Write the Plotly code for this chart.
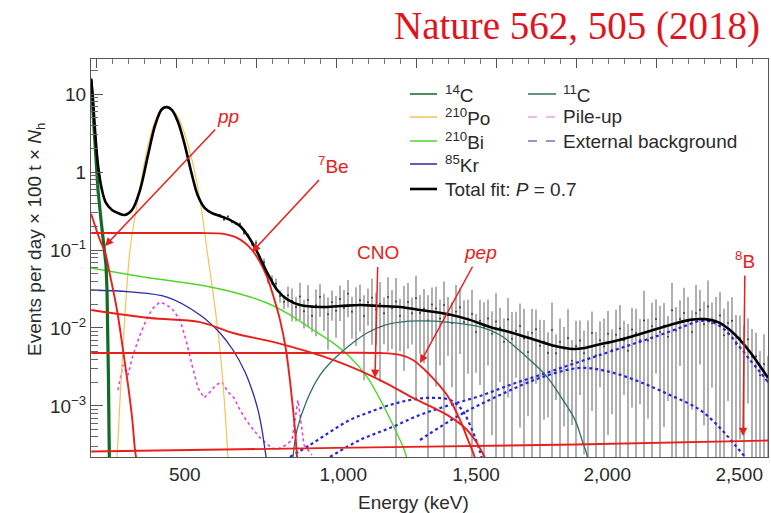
import numpy as np
import plotly.graph_objects as go

# ---------------------------------------------------------------------------
# Borexino Phase-II spectral fit, x axis in N_h (number of hits),
# energy labels placed at the matching N_h positions.
# ---------------------------------------------------------------------------
energy_tick_nh = [211, 409, 575, 739, 904]
energy_tick_text = ["500", "1,000", "1,500", "2,000", "2,500"]

# total fit
fit_nh = [94, 96.25, 98.75, 102.5, 107.5, 112.5, 120, 127.5, 136, 145,
          155, 165, 174, 182.5, 189, 195, 202.5, 211, 220, 227.5,
          236, 245, 255, 267.5, 280, 290, 299, 307.5, 317.5, 327.5,
          340, 355, 380, 405, 430, 455, 480, 505, 539, 567.5,
          592.5, 621, 649, 674, 696, 711, 726, 749, 767.5, 792.5,
          817.5, 842.5, 861, 877.5, 892.5, 905, 917.5, 930, 940]
fit_val = [15.8, 8.4, 3.45, 1.23, 0.587, 0.401, 0.326, 0.298, 0.281, 0.326,
           0.587, 1.65, 4.01, 6.43, 6.81, 6.24, 4.38, 2.22, 0.916, 0.492,
           0.345, 0.298, 0.273, 0.243, 0.203, 0.151, 0.106, 0.0701, 0.0438, 0.0298,
           0.0229, 0.0197, 0.0186, 0.0191, 0.0197, 0.0191, 0.0186, 0.0170, 0.0151, 0.0127,
           0.0103, 0.00863, 0.00702, 0.00587, 0.00538, 0.00555, 0.00605, 0.00681, 0.00767, 0.00916,
           0.0109, 0.0127, 0.0130, 0.0119, 0.00942, 0.00702, 0.00492, 0.00326, 0.00229]

# measured spectrum (bins of 5 N_h) with fractional uncertainties
data_nh = np.arange(255, 945, 5)
data_val = [0.282, 0.246, 0.270, 0.230, 0.219, 0.216, 0.165, 0.155, 0.121, 0.124,
            0.0773, 0.0695, 0.0409, 0.0415, 0.0372, 0.0257, 0.0217, 0.0262, 0.0221, 0.0186,
            0.0254, 0.0164, 0.0229, 0.0143, 0.0196, 0.0251, 0.0183, 0.0150, 0.0213, 0.0166,
            0.0236, 0.0180, 0.0274, 0.0162, 0.0196, 0.0226, 0.0142, 0.0214, 0.0244, 0.0172,
            0.0205, 0.0155, 0.0249, 0.0179, 0.0219, 0.0144, 0.0187, 0.0216, 0.0154, 0.0240,
            0.0156, 0.0176, 0.0125, 0.0200, 0.0178, 0.0132, 0.0197, 0.0147, 0.0116, 0.0162,
            0.0185, 0.0119, 0.0129, 0.0151, 0.00887, 0.0124, 0.0102, 0.0132, 0.00841, 0.0121,
            0.0101, 0.00664, 0.0128, 0.00728, 0.00920, 0.0106, 0.00735, 0.00493, 0.00863, 0.00962,
            0.00593, 0.00665, 0.00476, 0.00944, 0.00475, 0.00661, 0.00543, 0.00741, 0.00379, 0.00588,
            0.00692, 0.00475, 0.00568, 0.00859, 0.00445, 0.00695, 0.00577, 0.00845, 0.00522, 0.00818,
            0.00984, 0.00690, 0.00512, 0.00957, 0.00859, 0.00703, 0.0125, 0.00689, 0.0105, 0.0130,
            0.00887, 0.0107, 0.00771, 0.0169, 0.00931, 0.0130, 0.0156, 0.0122, 0.00891, 0.0155,
            0.0170, 0.0112, 0.0189, 0.0115, 0.0122, 0.0145, 0.00804, 0.0116, 0.0124, 0.00625,
            0.00743, 0.00515, 0.00716, 0.00431, 0.00434, 0.00247, 0.00346, 0.00203]
data_rel_err = [0.03, 0.04, 0.03, 0.05, 0.04, 0.05, 0.06, 0.05, 0.07,
                0.08, 0.10, 0.12, 0.10, 0.14, 0.16, 0.18, 0.20,
                0.30, 0.45, 0.35, 0.50, 0.40, 0.55, 0.38, 0.60, 0.45, 0.50, 0.65, 0.42, 0.55, 0.48, 0.70, 0.50,
                0.55, 0.70, 0.60, 0.85, 0.50, 0.75, 0.65, 0.90, 0.60, 0.80, 0.70, 1.00, 0.65, 0.85, 0.75, 0.60,
                0.95, 0.70, 0.80, 1.10, 0.65, 0.90, 0.75, 1.00, 0.70, 0.85, 1.20, 0.75, 0.90, 0.80, 1.05, 0.70,
                0.85, 1.10, 0.75, 0.95, 1.30, 0.80, 1.00, 0.90, 1.20, 0.75,
                0.95, 1.40, 0.85, 1.05, 0.80, 1.15, 0.90, 0.85, 1.25, 0.75,
                1.00, 0.90, 1.35, 0.85, 1.10, 0.80, 0.95, 1.20, 0.90, 1.00,
                0.75, 1.30, 0.95, 0.85, 1.10, 1.00, 0.80, 1.20, 0.90, 1.05,
                0.85, 1.40, 0.90, 1.00, 0.80, 1.15, 0.95, 0.85, 1.25, 1.00,
                0.75, 1.10, 1.05, 0.90, 1.30, 0.80, 0.95, 1.15, 0.85, 1.05,
                1.00, 1.20, 0.90, 1.00, 1.35, 0.95, 1.10, 0.85, 1.25, 1.00,
                1.05, 1.40, 1.15]
data_err = [v * r for v, r in zip(data_val, data_rel_err)]

# background components
c14_nh = [93.75, 96.25, 98.75, 102.5, 106.25, 110, 112.5, 113.75, 115, 115.6, 116.25, 116.9]
c14_val = [15.2, 6.24, 1.91, 0.587, 0.243, 0.106, 0.0643, 0.0307, 0.00942, 0.00215, 0.000492, 0.000151]

po_nh = [125, 127.5, 130, 135, 142.5, 151.25, 161.25, 170, 177.5, 183.75, 188.75,
         195, 202.5, 211.25, 220, 230, 238.75, 247.5, 255, 261.25, 265]
po_val = [0.000151, 0.000366, 0.00119, 0.00942, 0.1, 0.378, 1.43, 3.45, 5.38, 6.3, 6.6,
          6.2, 5.07, 2.98, 1.43, 0.438, 0.1, 0.0229, 0.00522, 0.000889, 0.000203]

bi_nh = [94, 167.5, 230, 280, 313.75, 342.5, 367.5, 396.25, 417.5, 438.75, 458.75, 471.25, 480, 486.25, 490]
bi_val = [0.0588, 0.0438, 0.0356, 0.0273, 0.0209, 0.0147, 0.0100, 0.00643, 0.00425, 0.00236,
          0.00103, 0.00057, 0.000366, 0.000257, 0.000191]

kr_nh = [94, 142.5, 188.75, 230, 255, 271.25, 286.25, 295, 302.5, 307.5, 311.25, 313.75]
kr_val = [0.0307, 0.029, 0.0249, 0.0147, 0.00863, 0.00522, 0.00273, 0.0016, 0.000889, 0.000492, 0.000273, 0.000191]

c11_nh = [346.25, 351.25, 363.75, 380, 396.25, 417.5, 438.75, 461.25, 480, 505, 538.75,
          580, 605, 621.25, 642.5, 663.75, 683.75, 698.75, 707.5, 713.75, 716.25]
c11_val = [0.000222, 0.000492, 0.00119, 0.00249, 0.00389, 0.00605, 0.00863, 0.0109, 0.0119, 0.0123, 0.0119,
           0.0103, 0.00813, 0.00605, 0.00389, 0.00236, 0.00119, 0.000662, 0.000366, 0.000235, 0.000175]

pileup_nh = [127.5, 133.75, 140, 146.25, 155, 163.75, 171.25, 180, 188.75, 196.25,
             205, 212.5, 220, 227.5, 235, 242.5, 250, 257.5, 265, 272.5,
             280, 287.5, 295, 305, 315, 325, 336.25, 345, 352.5, 360, 370]
pileup_val = [0.0016, 0.00336, 0.00249, 0.00451, 0.00813, 0.0134, 0.018, 0.0215, 0.0197, 0.017,
              0.0127, 0.00702, 0.00336, 0.0017, 0.00127, 0.00151, 0.00186, 0.00203, 0.00151, 0.00127,
              0.000889, 0.000662, 0.000522, 0.000389, 0.000316, 0.000273, 0.00031, 0.000366, 0.00119,
              0.000316, 0.000235]

# external background (40K, 214Bi, 208Tl)
k40_nh = [342.5, 367.5, 392.5, 417.5, 442.5, 467.5, 492.5, 517.5, 542.5, 557.5, 567.5, 575, 580, 583.75]
k40_val = [0.000222, 0.000316, 0.000464, 0.000662, 0.000838, 0.00103, 0.00119, 0.00127, 0.00119,
           0.000889, 0.00057, 0.000366, 0.000257, 0.000191]
bi214_nh = [505, 555, 605, 655, 705, 742.5, 780, 817.5, 855, 880, 898.75, 911.25]
bi214_val = [0.000366, 0.000767, 0.00138, 0.00229, 0.00307, 0.00273, 0.00203, 0.00138, 0.000889,
             0.000522, 0.000316, 0.000222]
tl208_nh = [392.5, 430, 467.5, 505, 542.5, 580, 617.5, 655, 692.5, 730, 767.5, 805, 836.25,
            855, 870, 886.25, 902.5, 917.5, 930, 940]
tl208_val = [0.000222, 0.000366, 0.000522, 0.000767, 0.00103, 0.00134, 0.00186, 0.00249, 0.00336,
             0.00451, 0.00605, 0.00813, 0.0106, 0.0123, 0.0119, 0.00942, 0.00605, 0.00389, 0.00273, 0.00203]

# solar neutrino components
pp_nh = [94, 105, 111.25, 117.5, 126.25, 133.75, 140, 145, 148.75, 150, 152.5]
pp_val = [0.29, 0.134, 0.0942, 0.0478, 0.0170, 0.00522, 0.00186, 0.000723, 0.000273, 0.000222, 0.000151]

be7_nh = [94, 167.5, 230, 261.25, 273.75, 286.25, 295, 305, 313.75, 321.25, 330, 337.5, 343.75,
          348.75, 351.25, 352.5]
be7_val = [0.165, 0.165, 0.165, 0.160, 0.147, 0.123, 0.100, 0.0701, 0.0451, 0.0265, 0.0127, 0.00522,
           0.0016, 0.000492, 0.000222, 0.000151]

cno_nh = [94, 167.5, 230, 271.25, 326.25, 396.25, 455, 496.25, 538.75, 561.25, 573.75, 582.5, 587.5]
cno_val = [0.0170, 0.0134, 0.0119, 0.00863, 0.00643, 0.00389, 0.00215, 0.00127, 0.000767, 0.000522,
           0.000366, 0.000257, 0.000203]

pep_nh = [94, 230, 355, 455, 480, 496.25, 517.5, 538.75, 555, 565, 572.5, 576.25]
pep_val = [0.00477, 0.00477, 0.00477, 0.00477, 0.00451, 0.00389, 0.00249, 0.00138, 0.000662,
           0.000366, 0.000235, 0.000175]

b8_nh = [94, 400, 700, 940]
b8_val = [0.00026, 0.00029, 0.00032, 0.00036]

# ---------------------------------------------------------------------------
RED = "#e8201c"
C14_COL = "#0f6b25"
PO_COL = "#f2c35a"
BI_COL = "#4ed62a"
KR_COL = "#2b2ba6"
C11_COL = "#2f6e6a"
PILEUP_COL = "#e044e0"
EXT_COL = "#2424e0"
FONT = "Liberation Sans, Arial, sans-serif"
TXT = "#2b2b2b"

fig = go.Figure()

# data points with error bars
fig.add_trace(go.Scatter(
    x=data_nh, y=data_val, mode="markers",
    marker=dict(size=2, color="#3a3a3a"),
    error_y=dict(type="data", array=data_err, symmetric=True,
                 color="#7c7c7c", thickness=1.2, width=0),
    hoverinfo="skip"))


def curve(x, y, color, width, dash="solid", shape="spline"):
    fig.add_trace(go.Scatter(x=x, y=y, mode="lines",
                             line=dict(color=color, width=width, dash=dash, shape=shape),
                             hoverinfo="skip"))


for ex_x, ex_y in [(k40_nh, k40_val), (bi214_nh, bi214_val), (tl208_nh, tl208_val)]:
    curve(ex_x, ex_y, EXT_COL, 2.2, dash="dot")
curve(pileup_nh, pileup_val, PILEUP_COL, 1.6, dash="dot", shape="linear")
curve(po_nh, po_val, PO_COL, 1.2)
curve(bi_nh, bi_val, BI_COL, 1.4)
curve(kr_nh, kr_val, KR_COL, 1.3)
curve(c11_nh, c11_val, C11_COL, 1.3)
curve(c14_nh, c14_val, C14_COL, 3.2, shape="linear")
for sx, sy in [(pp_nh, pp_val), (be7_nh, be7_val), (cno_nh, cno_val),
               (pep_nh, pep_val), (b8_nh, b8_val)]:
    curve(sx, sy, RED, 1.9)
curve(fit_nh, fit_val, "#000000", 2.6)

# carrier for the top N_h axis
fig.add_trace(go.Scatter(x=fit_nh, y=fit_val, xaxis="x2", mode="lines",
                         line=dict(width=0), opacity=0, hoverinfo="skip"))

# ---------------------------------------------------------------------------
W, H = 771, 513
ML, MR, MT, MB = 91, 3, 59, 56
PW, PH = W - ML - MR, H - MT - MB


def px(x):
    return (x - ML) / PW


def py(y):
    return (H - MB - y) / PH


annotations = []
shapes = []

# component labels with arrows: head on the curve (data coords), label offset in pixels
arrow_labels = [
    (111.25, -0.949, 123, -130, "<i>pp</i>"),
    (295, -1.026, 81, -87, "<sup>7</sup>Be"),
    (448.75, -2.641, 3, -125, "CNO"),
    (505, -2.449, 60, -110, "<i>pep</i>"),
    (908.75, -3.385, 2, -176, "<sup>8</sup>B"),
]
for hx, hy, ax, ay, lt in arrow_labels:
    annotations.append(dict(x=hx, y=hy, xref="x", yref="y", text=lt, showarrow=True,
                            ax=ax, ay=ay, arrowcolor=RED, arrowwidth=1.5,
                            arrowhead=2, arrowsize=1.1, standoff=0, startstandoff=2,
                            font=dict(family=FONT, size=19, color=RED)))

# legend drawn by hand in two columns
legend_items = [
    (0, 0, "<sup>14</sup>C", C14_COL, "solid", 1.5),
    (0, 1, "<sup>210</sup>Po", PO_COL, "solid", 1.5),
    (0, 2, "<sup>210</sup>Bi", BI_COL, "solid", 1.5),
    (0, 3, "<sup>85</sup>Kr", KR_COL, "solid", 1.5),
    (0, 4, "Total fit: <i>P</i> = 0.7", "#000000", "solid", 2.6),
    (1, 0, "<sup>11</sup>C", C11_COL, "solid", 1.5),
    (1, 1, "Pile-up", "#e070e0", "dash", 1.2),
    (1, 2, "External background", "#303090", "dash", 1.2),
]
col_line = [(410, 437), (528, 556)]
col_text = [443, 561]
row_y = [94, 117, 141, 164, 189]
for col, row, text, color, dash, width in legend_items:
    x0, x1 = col_line[col]
    yy = py(row_y[row])
    shapes.append(dict(type="line", xref="paper", yref="paper", x0=px(x0), x1=px(x1),
                       y0=yy, y1=yy, line=dict(color=color, width=width, dash=dash)))
    annotations.append(dict(x=px(col_text[col]), y=yy, xref="paper", yref="paper",
                            xanchor="left", yanchor="middle", text=text, showarrow=False,
                            font=dict(family=FONT, size=19, color=TXT)))

# axis titles and header
annotations.append(dict(x=px(36), y=py(240), xref="paper", yref="paper", textangle=-90,
                        xanchor="center", yanchor="middle",
                        text="Events per day × 100 t × <i>N</i><sub>h</sub>", showarrow=False,
                        font=dict(family=FONT, size=19, color=TXT)))
annotations.append(dict(x=px(413), y=py(502), xref="paper", yref="paper",
                        xanchor="center", yanchor="middle",
                        text="Energy (keV)", showarrow=False,
                        font=dict(family=FONT, size=19, color=TXT)))
annotations.append(dict(x=px(762), y=py(26), xref="paper", yref="paper", xanchor="right",
                        yanchor="middle", text="Nature 562, 505 (2018)", showarrow=False,
                        font=dict(family="Liberation Serif, Times New Roman, serif", size=39,
                                  color="#e0141e")))

minor_y = [m * 10.0 ** k for k in range(-4, 2) for m in range(2, 10)]

fig.update_layout(
    width=W, height=H,
    margin=dict(l=ML, r=MR, t=MT, b=MB),
    paper_bgcolor="white", plot_bgcolor="white",
    showlegend=False,
    font=dict(family=FONT, size=19, color=TXT),
    xaxis=dict(range=[93.75, 940], tickmode="array", tickvals=energy_tick_nh,
               ticktext=energy_tick_text, ticks="", showline=True, linecolor="#555555",
               linewidth=1, showgrid=False, zeroline=False,
               tickfont=dict(family=FONT, size=19, color=TXT)),
    xaxis2=dict(range=[93.75, 940], overlaying="x", side="top", anchor="y",
                tickmode="linear", tick0=100, dtick=100, ticks="inside", ticklen=9,
                tickcolor="#555555", showticklabels=False, showline=True, linecolor="#555555",
                showgrid=False, zeroline=False,
                minor=dict(tickmode="linear", tick0=100, dtick=20, ticks="inside",
                           ticklen=5, tickcolor="#777777")),
    yaxis=dict(type="log", range=[-3.655, 1.45], tickmode="array",
               tickvals=[0.001, 0.01, 0.1, 1, 10],
               ticktext=["10<sup>−3</sup>", "10<sup>−2</sup>", "10<sup>−1</sup>", "1", "10"],
               ticks="inside", ticklen=12, tickcolor="#555555", showline=True, mirror=True,
               linecolor="#555555", showgrid=False, zeroline=False,
               tickfont=dict(family=FONT, size=19, color=TXT),
               minor=dict(tickmode="array", tickvals=minor_y, ticks="inside", ticklen=7,
                          tickcolor="#666666")),
    annotations=annotations,
    shapes=shapes,
)

fig.write_html("out.html")
